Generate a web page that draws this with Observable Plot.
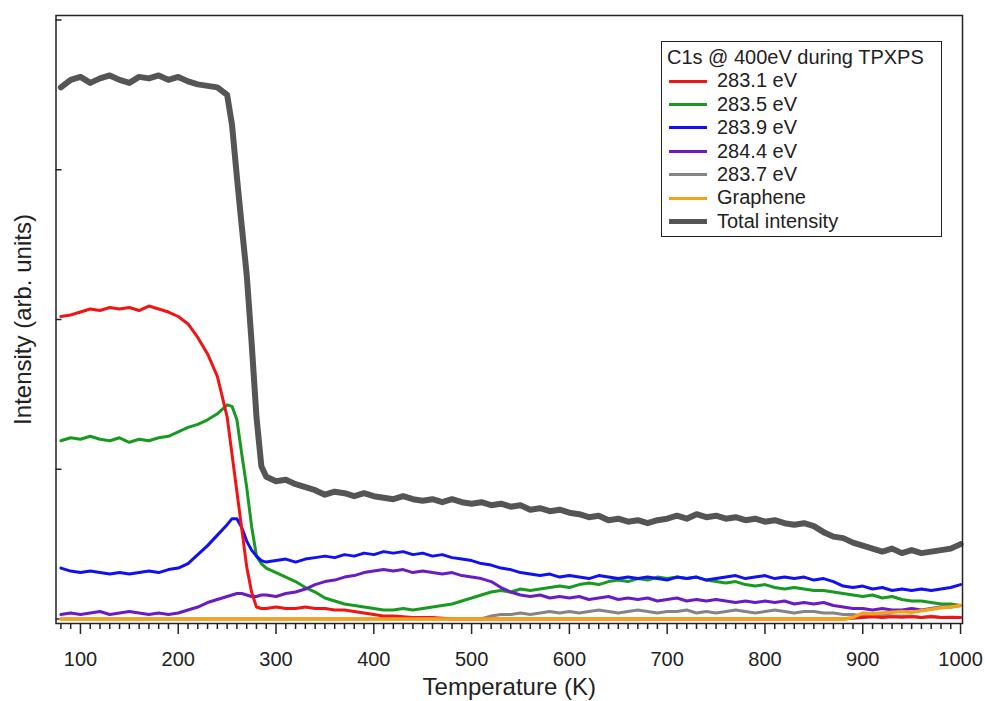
<!DOCTYPE html>
<html><head><meta charset="utf-8">
<script src="https://cdn.jsdelivr.net/npm/d3@7"></script>
<script src="https://cdn.jsdelivr.net/npm/@observablehq/plot@0.6"></script>
<style>
body{margin:0;background:#fff;}
#wrap{position:relative;width:985px;height:701px;font-family:"Liberation Sans",Arial,sans-serif;color:#222;}
#legend{position:absolute;left:661px;top:41px;width:281px;height:196px;box-sizing:border-box;border:1.5px solid #222;background:#fff;padding-top:4px;font-size:20px;}
#legend .row{height:23.4px;line-height:23.4px;display:flex;align-items:center;white-space:nowrap;}
#legend .title{padding-left:5px;}
#legend .sw{width:38px;margin-left:7px;margin-right:10px;}
</style>
</head><body>
<div id="wrap"><div id="chart"></div><div id="legend"></div></div>
<script>
// Temperature (K)
const temps = [80,90,100,110,120,130,140,150,160,170,
180,190,200,210,220,230,240,250,255,260,265,270,275,
280,285,290,300,310,320,330,340,350,360,370,
380,390,400,410,420,430,440,450,460,470,
480,490,500,510,520,530,540,550,560,570,
580,590,600,610,620,630,640,650,660,670,
680,690,700,710,720,730,740,750,760,770,
780,790,800,810,820,830,840,850,860,870,
880,890,900,910,920,930,940,950,960,970,
980,990,1000];

const s2831 = [2.02,2.03,2.05,2.07,2.06,2.08,2.07,2.08,2.06,2.09,
2.07,2.05,2.02,1.97,1.88,1.77,1.62,1.35,1.10,0.85,0.60,0.35,0.18,
0.08,0.07,0.07,0.08,0.07,0.07,0.08,0.07,0.07,0.06,0.06,
0.05,0.04,0.03,0.02,0.02,0.015,0.01,0.01,0.01,0.005,
0,0,0,0,0,0,0,0,0,0,
0,0,0,0,0,0,0,0,0,0,
0,0,0,0,0,0,0,0,0,0,
0,0,0,0,0,0,0,0,0,0,
0,0.005,0.01,0.015,0.01,0.015,0.012,0.015,0.01,0.015,
0.01,0.012,0.01];

const s2835 = [1.19,1.21,1.20,1.22,1.20,1.19,1.21,1.18,1.20,1.19,
1.21,1.22,1.25,1.28,1.30,1.33,1.37,1.43,1.42,1.33,1.10,0.88,0.62,
0.42,0.37,0.34,0.31,0.28,0.25,0.21,0.18,0.14,0.12,0.10,
0.09,0.08,0.07,0.06,0.06,0.07,0.06,0.07,0.08,0.09,
0.10,0.12,0.14,0.16,0.18,0.19,0.18,0.20,0.19,0.20,
0.21,0.22,0.21,0.23,0.24,0.23,0.25,0.26,0.25,0.27,
0.26,0.28,0.27,0.28,0.27,0.28,0.26,0.25,0.24,0.25,
0.23,0.22,0.23,0.21,0.20,0.21,0.20,0.19,0.19,0.18,
0.17,0.16,0.15,0.16,0.14,0.15,0.13,0.12,0.12,0.11,
0.10,0.10,0.09];

const s2839 = [0.34,0.32,0.31,0.32,0.31,0.30,0.31,0.30,0.31,0.32,
0.31,0.33,0.34,0.37,0.43,0.49,0.56,0.63,0.67,0.67,0.61,0.52,0.46,
0.42,0.39,0.38,0.39,0.40,0.38,0.40,0.41,0.42,0.41,0.43,
0.42,0.44,0.43,0.45,0.44,0.45,0.43,0.44,0.42,0.43,
0.41,0.40,0.39,0.37,0.36,0.34,0.33,0.31,0.30,0.29,
0.30,0.28,0.29,0.28,0.27,0.29,0.28,0.27,0.28,0.27,
0.28,0.27,0.26,0.28,0.27,0.28,0.26,0.27,0.28,0.29,
0.27,0.28,0.29,0.27,0.28,0.27,0.28,0.26,0.27,0.25,
0.22,0.21,0.22,0.20,0.21,0.19,0.20,0.19,0.20,0.19,
0.20,0.21,0.23];

const s2844 = [0.03,0.04,0.03,0.04,0.05,0.03,0.04,0.05,0.04,0.03,
0.04,0.03,0.04,0.06,0.08,0.11,0.13,0.15,0.16,0.17,0.17,0.16,0.15,
0.15,0.16,0.16,0.15,0.17,0.18,0.20,0.23,0.25,0.26,0.28,
0.29,0.31,0.32,0.33,0.32,0.33,0.31,0.32,0.31,0.30,
0.31,0.29,0.28,0.27,0.25,0.21,0.18,0.16,0.15,0.16,
0.14,0.15,0.14,0.15,0.13,0.14,0.15,0.13,0.14,0.13,
0.14,0.12,0.13,0.14,0.12,0.13,0.12,0.13,0.12,0.11,
0.12,0.11,0.12,0.11,0.12,0.10,0.11,0.10,0.11,0.09,
0.08,0.07,0.07,0.06,0.07,0.06,0.06,0.07,0.06,0.07,
0.08,0.08,0.09];

const s2837 = [0,0,0,0,0,0,0,0,0,0,
0,0,0,0,0,0,0,0,0,0,0,0,0,
0,0,0,0,0,0,0,0,0,0,0,
0,0,0,0,0,0,0,0,0,0,
0,0,0,0,0.02,0.03,0.03,0.04,0.03,0.04,
0.05,0.04,0.05,0.04,0.05,0.06,0.05,0.04,0.05,0.06,
0.05,0.04,0.05,0.05,0.06,0.04,0.05,0.04,0.05,0.06,
0.05,0.04,0.05,0.06,0.05,0.04,0.05,0.05,0.04,0.04,
0.03,0.03,0.02,0.02,0.03,0.02,0.02,0.02,0.01,0.02,
0.01,0.01,0.01];

const graphene = [0,0,0,0,0,0,0,0,0,0,
0,0,0,0,0,0,0,0,0,0,0,0,0,
0,0,0,0,0,0,0,0,0,0,0,
0,0,0,0,0,0,0,0,0,0,
0,0,0,0,0,0,0,0,0,0,
0,0,0,0,0,0,0,0,0,0,
0,0,0,0,0,0,0,0,0,0,
0,0,0,0,0,0,0,0,0,0,
0,0.01,0.04,0.035,0.04,0.045,0.05,0.045,0.055,0.065,
0.075,0.08,0.09];

const total = [3.55,3.60,3.62,3.58,3.61,3.63,3.60,3.58,3.62,3.61,
3.63,3.60,3.62,3.59,3.57,3.56,3.55,3.50,3.30,2.95,2.62,2.30,1.85,
1.35,1.02,0.95,0.92,0.93,0.90,0.88,0.86,0.83,0.85,0.84,
0.82,0.84,0.82,0.81,0.80,0.82,0.80,0.79,0.80,0.78,
0.80,0.78,0.77,0.78,0.76,0.77,0.75,0.76,0.73,0.74,
0.72,0.73,0.71,0.70,0.68,0.69,0.66,0.67,0.65,0.66,
0.64,0.66,0.67,0.69,0.67,0.70,0.68,0.69,0.67,0.68,
0.66,0.67,0.65,0.66,0.64,0.63,0.64,0.62,0.58,0.55,
0.54,0.51,0.49,0.47,0.45,0.47,0.44,0.46,0.44,0.45,
0.46,0.47,0.50];

const seriesNames = ["283.1 eV","283.5 eV","283.9 eV","284.4 eV","283.7 eV","Graphene","Total intensity"];
const seriesValues = [s2831, s2835, s2839, s2844, s2837, graphene, total];
const seriesColors = ["#f01414","#179a1f","#1010f2","#6a1cc4","#858585","#f4a21c","#555555"];
const seriesWidths = [3, 3, 3, 3, 3, 3.5, 6];
const drawOrder = [4, 1, 2, 3, 0, 5, 6];

const xMajorTicks = [100,200,300,400,500,600,700,800,900,1000];
const xMinorTicks = d3.range(80, 1001, 10).filter(t => t % 100 !== 0);
const yTicks = [0,1,2,3,4];

const rows = temps.map((t, i) => {
  const r = {T: t};
  seriesNames.forEach((n, k) => r[n] = seriesValues[k][i]);
  return r;
});

const lineMarks = drawOrder.map(k => Plot.line(rows, {
  x: "T", y: seriesNames[k], stroke: seriesColors[k], strokeWidth: seriesWidths[k],
  strokeLinejoin: "round", strokeLinecap: "round"
}));

const chart = Plot.plot({
  width: 985, height: 701,
  marginLeft: 55.5, marginRight: 23, marginTop: 15, marginBottom: 78,
  x: {domain: [75, 1002]},
  y: {domain: [-0.03, 4.03]},
  style: {fontFamily: "Liberation Sans, Arial, sans-serif", fontSize: "20px", color: "#222", background: "white"},
  marks: [
    Plot.axisX({ticks: xMinorTicks, tickSize: 6, tickFormat: () => "", label: null, strokeWidth: 1.5}),
    Plot.axisX({ticks: xMajorTicks, tickSize: 11, tickPadding: 17, label: null, strokeWidth: 1.5, fontSize: 20, tickFormat: d => String(d)}),
    Plot.axisY({ticks: yTicks, tickSize: 6, dx: 6, tickFormat: () => "", label: null, strokeWidth: 1.5}),
    ...lineMarks,
    Plot.frame({stroke: "#222", strokeWidth: 1.5}),
    Plot.text(["Temperature (K)"], {text: d => d, frameAnchor: "bottom", textAnchor: "middle", lineAnchor: "middle", dy: 64, fontSize: 24, fill: "#222"}),
    Plot.text(["Intensity (arb. units)"], {text: d => d, frameAnchor: "left", textAnchor: "middle", lineAnchor: "middle", dx: -33, rotate: -90, fontSize: 24, fill: "#222"})
  ]
});
document.getElementById("chart").appendChild(chart);

const legend = document.getElementById("legend");
const title = document.createElement("div");
title.className = "row title";
title.textContent = "C1s @ 400eV during TPXPS";
legend.appendChild(title);
seriesNames.forEach((n, k) => {
  const row = document.createElement("div");
  row.className = "row";
  const sw = document.createElement("div");
  sw.className = "sw";
  sw.style.height = (k === 6 ? 5 : 3) + "px";
  sw.style.background = seriesColors[k];
  const tx = document.createElement("span");
  tx.textContent = n;
  row.appendChild(sw); row.appendChild(tx);
  legend.appendChild(row);
});
</script>
</body></html>
